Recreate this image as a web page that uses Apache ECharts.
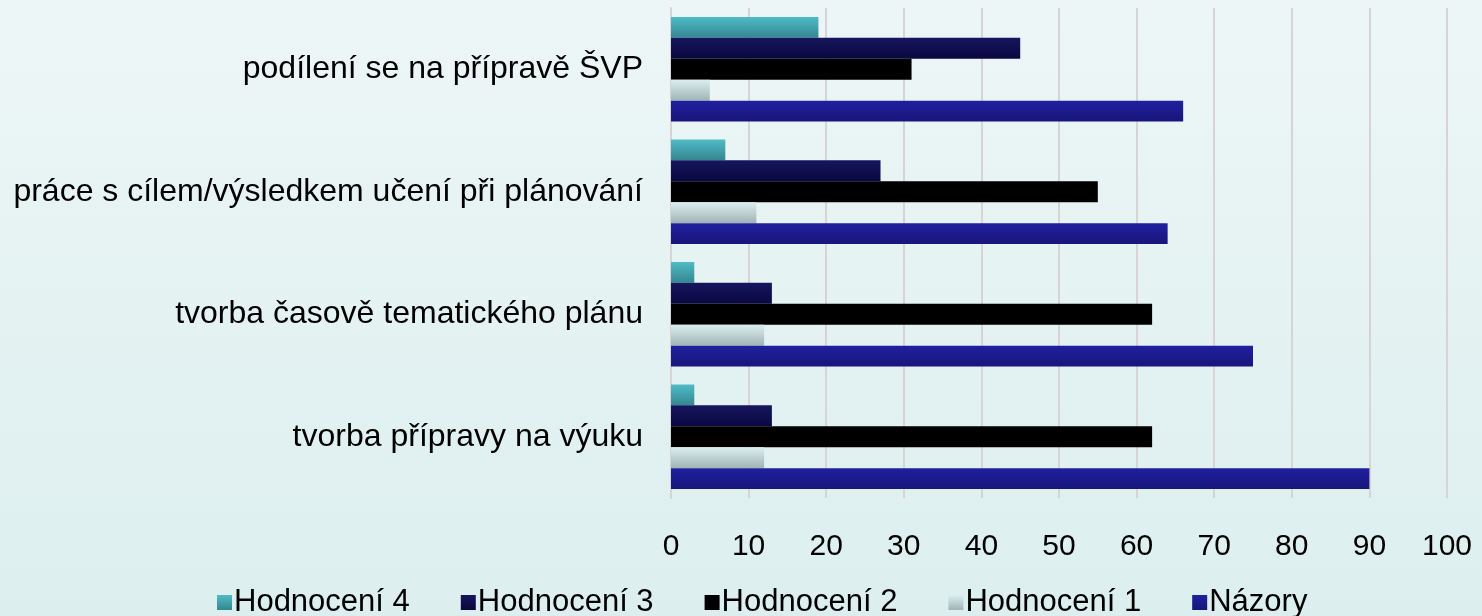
<!DOCTYPE html>
<html>
<head>
<meta charset="utf-8">
<script src="https://cdn.jsdelivr.net/npm/echarts@6/dist/echarts.min.js"></script>
<style>
  html, body { margin: 0; padding: 0; }
  #chart { width: 1482px; height: 616px; }
</style>
</head>
<body>
<div id="chart"></div>
<script>
// categories listed bottom to top
const categories = [
  'tvorba přípravy na výuku',
  'tvorba časově tematického plánu',
  'práce s cílem/výsledkem učení při plánování',
  'podílení se na přípravě ŠVP'
]
const nazory = [90, 75, 64, 66]
const hodnoceni1 = [12, 12, 11, 5]
const hodnoceni2 = [62, 62, 55, 31]
const hodnoceni3 = [13, 13, 27, 45]
const hodnoceni4 = [3, 3, 7, 19]
const xTicks = [0, 100, 10]

const grad = (top, bottom) => new echarts.graphic.LinearGradient(0, 0, 0, 1, [
  { offset: 0, color: top },
  { offset: 1, color: bottom }
])

const palette = {
  'Názory': ['#2020a0', '#18157a'],
  'Hodnocení 1': ['#dbeef1', '#a2b3b5'],
  'Hodnocení 2': ['#000000', '#000000'],
  'Hodnocení 3': ['#15165e', '#0a0840'],
  'Hodnocení 4': ['#4fbcc7', '#35868f']
}

// first series is drawn at the top of each group
const seriesData = [
  ['Hodnocení 4', hodnoceni4],
  ['Hodnocení 3', hodnoceni3],
  ['Hodnocení 2', hodnoceni2],
  ['Hodnocení 1', hodnoceni1],
  ['Názory', nazory]
]

const chart = echarts.init(document.getElementById('chart'))
chart.setOption({
  backgroundColor: grad('#edf6f6', '#dcefee'),
  textStyle: { fontFamily: 'Liberation Sans, Arial, sans-serif' },
  grid: { left: 671, right: 35, top: 8, bottom: 118, containLabel: false },
  legend: {
    top: 582,
    left: 212,
    data: ['Hodnocení 4', 'Hodnocení 3', 'Hodnocení 2', 'Hodnocení 1', 'Názory'],
    icon: 'rect',
    itemWidth: 15,
    itemHeight: 15,
    itemGap: 51,
    textStyle: { fontSize: 31, color: '#000', padding: [0, 0, 0, -3] }
  },
  xAxis: {
    type: 'value',
    min: xTicks[0],
    max: xTicks[1],
    interval: xTicks[2],
    axisLine: { show: false },
    axisTick: { show: false },
    axisLabel: { fontSize: 30, color: '#000', margin: 34 },
    splitLine: { lineStyle: { color: '#d8d4d6', width: 2 } }
  },
  yAxis: {
    type: 'category',
    data: categories,
    axisLine: { show: true, lineStyle: { color: '#d8d4d6', width: 2 } },
    axisTick: { show: false },
    axisLabel: { fontSize: 32, color: '#000', margin: 28 }
  },
  series: seriesData.map(([name, values]) => ({
    name,
    type: 'bar',
    data: values,
    barGap: '0%',
    barCategoryGap: '14.5%',
    itemStyle: {
      color: grad(palette[name][0], palette[name][1]),
      shadowColor: 'rgba(0, 0, 0, 0.28)',
      shadowBlur: 6,
      shadowOffsetX: 3,
      shadowOffsetY: 3
    }
  }))
})
</script>
</body>
</html>
